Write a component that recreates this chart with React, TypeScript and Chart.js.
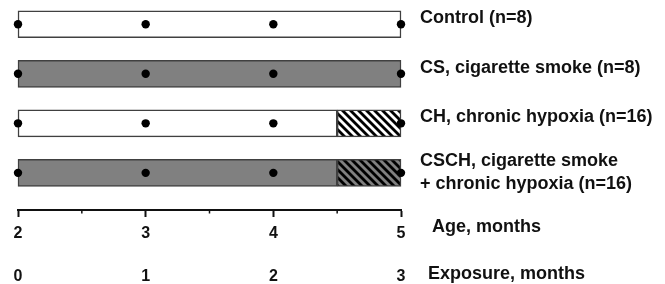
import { useEffect, useRef } from 'react';
import { Chart, registerables } from 'chart.js';

Chart.register(...registerables);

// ---- data ----
const groupLabels: (string | string[])[] = [
  'Control (n=8)',
  'CS, cigarette smoke (n=8)',
  'CH, chronic hypoxia (n=16)',
  ['CSCH, cigarette smoke', '+ chronic hypoxia (n=16)'],
];
const rows = [0, 1, 2, 3];
const smokeExposed = [false, true, false, true];
const hypoxiaExposed = [false, false, true, true];
const ageStart = 2;
const ageEnd = 5;
const hypoxiaStartAge = 4.5;
const sampleAges = [2, 3, 4, 5];
const ageTicks = [2, 3, 4, 5];
const ageMinorTicks = [2.5, 3.5, 4.5];
const exposureTicks = [0, 1, 2, 3];
const ageTitle = 'Age, months';
const exposureTitle = 'Exposure, months';

// ---- style ----
const FONT = '"Liberation Sans", Arial, Helvetica, sans-serif';
const INK = '#111111';
const GRAY = '#808080';
const BORDER = '#404040';

function makeHatch(bg: string): CanvasPattern | string {
  const c = document.createElement('canvas');
  c.width = 8;
  c.height = 8;
  const g = c.getContext('2d');
  if (!g) return bg;
  g.fillStyle = bg;
  g.fillRect(0, 0, 8, 8);
  g.strokeStyle = '#000';
  g.lineWidth = 2.8;
  for (const o of [-8, 0, 8]) {
    g.beginPath();
    g.moveTo(o - 2, -2);
    g.lineTo(o + 10, 10);
    g.stroke();
  }
  return g.createPattern(c, 'repeat') || bg;
}

const annotate = {
  id: 'annotate',
  afterDraw(chart: any) {
    const { ctx, chartArea, scales } = chart;
    const xs = scales.x;
    const x2 = scales.x2;
    ctx.save();
    ctx.strokeStyle = INK;
    ctx.lineWidth = 1.5;
    for (const v of ageMinorTicks) {
      const px = xs.getPixelForValue(v);
      ctx.beginPath();
      ctx.moveTo(px, xs.top);
      ctx.lineTo(px, xs.top + 3.5);
      ctx.stroke();
    }
    ctx.font = `bold 18px ${FONT}`;
    ctx.fillStyle = INK;
    ctx.textAlign = 'left';
    ctx.textBaseline = 'middle';
    ctx.fillText(ageTitle, chartArea.right + 31, xs.top + 17);
    ctx.fillText(exposureTitle, chartArea.right + 27, x2.top + 24);
    ctx.restore();
  },
};

export default function App() {
  const ref = useRef<HTMLCanvasElement | null>(null);

  useEffect(() => {
    if (!ref.current) return;
    Chart.defaults.font.family = FONT;
    const hatchWhite = makeHatch('#ffffff');
    const hatchGray = makeHatch(GRAY);

    const chart = new Chart(ref.current, {
      type: 'bar',
      data: {
        datasets: [
          {
            type: 'scatter',
            data: rows.flatMap((r) => sampleAges.map((a) => ({ x: a, y: r }))),
            xAxisID: 'x',
            yAxisID: 'y',
            backgroundColor: '#000',
            borderColor: '#000',
            borderWidth: 0,
            pointRadius: 4.2,
            showLine: false,
            clip: false,
            order: 0,
          } as any,
          {
            type: 'bar',
            indexAxis: 'y',
            data: rows.map((r) => ({ y: r, x: [ageStart, hypoxiaExposed[r] ? hypoxiaStartAge : ageEnd] })),
            xAxisID: 'x',
            yAxisID: 'y',
            backgroundColor: rows.map((r) => (smokeExposed[r] ? GRAY : '#ffffff')),
            borderColor: BORDER,
            borderWidth: 1.5,
            borderSkipped: false,
            barThickness: 27,
            grouped: false,
            clip: false,
            order: 2,
          } as any,
          {
            type: 'bar',
            indexAxis: 'y',
            data: rows.filter((r) => hypoxiaExposed[r]).map((r) => ({ y: r, x: [hypoxiaStartAge, ageEnd] })),
            xAxisID: 'x',
            yAxisID: 'y',
            backgroundColor: (c: any) => (c.raw && smokeExposed[c.raw.y] ? hatchGray : hatchWhite),
            borderColor: BORDER,
            borderWidth: 1.5,
            borderSkipped: false,
            barThickness: 27,
            grouped: false,
            clip: false,
            order: 1,
          } as any,
        ],
      },
      options: {
        indexAxis: 'y',
        responsive: false,
        animation: false,
        layout: { padding: { left: 18, right: 0, top: 0, bottom: 0 }, autoPadding: false } as any,
        plugins: { legend: { display: false }, tooltip: { enabled: false } },
        scales: {
          x: {
            type: 'linear',
            position: 'bottom',
            offset: false,
            weight: 0,
            min: ageStart,
            max: ageEnd,
            afterBuildTicks: (s: any) => {
              s.ticks = ageTicks.map((v) => ({ value: v }));
            },
            ticks: {
              autoSkip: false,
              maxRotation: 0,
              padding: 7,
              color: INK,
              font: { size: 16, weight: 'bold', family: FONT },
              callback: (v: any) => String(v),
            },
            grid: { offset: false, drawOnChartArea: false, drawTicks: true, tickLength: 7, tickColor: INK, tickWidth: 2 },
            border: { display: true, color: INK, width: 2 },
            afterFit: (s: any) => {
              s.height = 40;
              s.paddingLeft = 0;
              s.paddingRight = 0;
            },
          },
          x2: {
            type: 'linear',
            position: 'bottom',
            offset: false,
            weight: 1,
            min: exposureTicks[0],
            max: exposureTicks[exposureTicks.length - 1],
            afterBuildTicks: (s: any) => {
              s.ticks = exposureTicks.map((v) => ({ value: v }));
            },
            ticks: {
              autoSkip: false,
              maxRotation: 0,
              padding: 17,
              color: INK,
              font: { size: 16, weight: 'bold', family: FONT },
              callback: (v: any) => String(v),
            },
            grid: { offset: false, display: false, drawTicks: false },
            border: { display: false },
            afterFit: (s: any) => {
              s.height = 34;
              s.paddingLeft = 0;
              s.paddingRight = 0;
            },
          },
          y: {
            type: 'linear',
            position: 'right',
            offset: false,
            reverse: true,
            min: -0.49,
            max: 3.75,
            afterBuildTicks: (s: any) => {
              s.ticks = rows.map((r) => ({ value: r }));
            },
            ticks: {
              autoSkip: false,
              crossAlign: 'near',
              padding: 19,
              color: INK,
              font: (c: any) => ({
                size: 18,
                weight: 'bold',
                family: FONT,
                lineHeight: Array.isArray(groupLabels[c.index]) ? '23px' : '12px',
              }),
              callback: (v: any) => {
                const l = groupLabels[v];
                return Array.isArray(l) ? l : [l, ''];
              },
            },
            grid: { offset: false, display: false, drawTicks: false },
            border: { display: false },
            afterFit: (s: any) => {
              s.width = 264;
              s.paddingTop = 0;
              s.paddingBottom = 0;
            },
          },
        } as any,
      },
      plugins: [annotate],
    });
    return () => chart.destroy();
  }, []);

  return (
    <div style={{ position: 'fixed', left: 0, top: 0, width: 665, height: 284, background: '#fff' }}>
      <canvas ref={ref} width={665} height={284} style={{ display: 'block' }} />
    </div>
  );
}
